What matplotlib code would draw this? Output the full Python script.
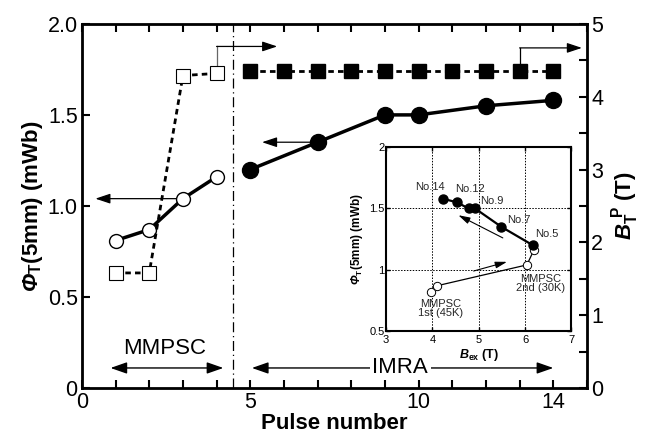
import matplotlib
matplotlib.use("Agg")
import matplotlib.pyplot as plt
import numpy as np

plt.rcParams['font.family'] = ['Liberation Sans', 'DejaVu Sans']
plt.rcParams['mathtext.fontset'] = 'custom'
plt.rcParams['mathtext.it'] = 'Liberation Sans:italic:bold'
plt.rcParams['mathtext.bf'] = 'Liberation Sans:bold'
# capital greek is drawn from the rm font, so make it bold italic for the Phi
plt.rcParams['mathtext.rm'] = 'Liberation Sans:italic:bold'

# main panel data
pulse_mmpsc = [1, 2, 3, 4]
phi_mmpsc = [0.81, 0.87, 1.04, 1.16]
pulse_imra = [5, 7, 9, 10, 12, 14]
phi_imra = [1.20, 1.35, 1.50, 1.50, 1.55, 1.58]
bt_mmpsc = [1.58, 1.58, 4.29, 4.32]
pulse_imra_b = [5, 6, 7, 8, 9, 10, 11, 12, 13, 14]
bt_imra = [4.35] * 10

# inset data
bex_open = [3.97, 4.10, 6.04, 6.19]
phi_open = [0.82, 0.87, 1.04, 1.16]
bex_fill = [6.17, 5.49, 4.92, 4.78, 4.53, 4.22]
phi_fill = [1.20, 1.35, 1.50, 1.50, 1.55, 1.58]

fig = plt.figure(figsize=(6.5, 4.34), dpi=100)
ax = fig.add_axes([0.126, 0.106, 0.777, 0.839])
ax2 = ax.twinx()

# left axis: flux
ax.plot(pulse_mmpsc, phi_mmpsc, '-', color='k', lw=2.5, marker='o', ms=10,
        mfc='white', mec='k', mew=1, zorder=3)
ax.plot(pulse_imra, phi_imra, '-', color='k', lw=2.5, marker='o', ms=11.5,
        mfc='k', mec='k', zorder=3)
ax.set_xlim(0, 15)
ax.set_ylim(0, 2.0)
ax.set_xticks(np.arange(0, 16))
ax.set_xticklabels(['0', '', '', '', '', '5', '', '', '', '', '10', '', '', '', '14', ''])
ax.set_yticks([0, 0.5, 1.0, 1.5, 2.0])
ax.set_yticklabels(['0', '0.5', '1.0', '1.5', '2.0'])
ax.tick_params(direction='in', length=6, width=1.5, labelsize=15.5, top=True, pad=3)
for s in ax.spines.values():
    s.set_linewidth(2)
ax.set_xlabel('Pulse number', fontsize=16, fontweight='bold', labelpad=0)
ax.set_ylabel(r'$\Phi_{\mathbf{T}}$(5mm) (mWb)', fontsize=16, fontweight='bold',
              labelpad=2)

# right axis: B_T^P
ax2.plot(pulse_mmpsc, bt_mmpsc, linestyle=(0, (2, 1.5)), color='k', lw=2, marker='s',
         ms=10.5, mfc='white', mec='k', mew=0.8, zorder=3)
ax2.plot(pulse_imra_b, bt_imra, linestyle=(0, (2, 1.5)), color='k', lw=2, marker='s',
         ms=10.5, mfc='k', mec='k', zorder=3)
ax2.set_ylim(0, 5)
ax2.set_yticks(np.arange(0, 5.01, 0.5))
ax2.set_yticklabels(['0', '', '1', '', '2', '', '3', '', '4', '', '5'])
ax2.tick_params(direction='in', length=6, width=1.5, labelsize=15.5, pad=3)
ax2.set_ylabel(r'$B_{\mathbf{T}}^{\ \mathbf{P}}$ (T)', fontsize=16, fontweight='bold', labelpad=4)

# separator
ax.axvline(4.5, color='k', lw=0.9, linestyle=(0, (8, 3, 1, 3)), zorder=1)

arrow_kw = dict(arrowstyle='-|>,head_length=0.9,head_width=0.3', color='k', lw=0.9,
                shrinkA=0, shrinkB=0)
ax.annotate('', xy=(0.4, 1.04), xytext=(3, 1.04), arrowprops=arrow_kw, zorder=2)
ax.annotate('', xy=(5.35, 1.35), xytext=(7, 1.35), arrowprops=arrow_kw, zorder=2)
ax2.plot([4, 4], [4.32, 4.69], color='0.4', lw=0.9, zorder=2)
ax2.annotate('', xy=(5.8, 4.69), xytext=(4, 4.69), arrowprops=arrow_kw, zorder=2)
ax2.plot([13, 13], [4.35, 4.67], color='k', lw=0.9, zorder=2)
ax2.annotate('', xy=(14.85, 4.67), xytext=(13, 4.67), arrowprops=arrow_kw, zorder=2)

dbl_kw = dict(arrowstyle='<|-|>,head_length=1.0,head_width=0.35', color='k', lw=1,
              shrinkA=0, shrinkB=0)
ax.annotate('', xy=(0.85, 0.11), xytext=(4.2, 0.11), arrowprops=dbl_kw)
ax.text(2.45, 0.215, 'MMPSC', fontsize=16, ha='center', va='center')
ax.annotate('', xy=(5.05, 0.11), xytext=(14.0, 0.11), arrowprops=dbl_kw)
ax.text(9.45, 0.115, 'IMRA', fontsize=16, ha='center', va='center',
        bbox=dict(facecolor='white', edgecolor='none', pad=2))

# inset
ins = fig.add_axes([0.594, 0.237, 0.285, 0.424])
ins.plot(bex_open, phi_open, '-', color='k', lw=0.9, marker='o', ms=6,
         mfc='white', mec='k', mew=0.7, zorder=3)
ins.plot(bex_fill, phi_fill, '-', color='k', lw=1.6, marker='o', ms=6.5,
         mfc='k', mec='k', zorder=3)
ins.set_xlim(3, 7)
ins.set_ylim(0.5, 2)
ins.set_xticks([3, 4, 5, 6, 7])
ins.set_yticks([0.5, 1, 1.5, 2])
ins.set_yticklabels(['0.5', '1', '1.5', '2'])
ins.grid(True, color='k', lw=0.7, linestyle=(0, (1.5, 1.5)))
ins.tick_params(direction='in', length=3, width=1, labelsize=8, pad=1, top=True, right=True)
ins.tick_params(axis='x', pad=2.5)
for s in ins.spines.values():
    s.set_linewidth(1.5)
ins.set_xlabel(r'$B_{\mathbf{ex}}$ (T)', fontsize=9, fontweight='bold', labelpad=2)
ins.set_ylabel(r'$\Phi_{\mathbf{T}}$(5mm) (mWb)', fontsize=8.5, fontweight='bold',
               labelpad=3)

small_arrow = dict(arrowstyle='-|>,head_length=0.7,head_width=0.2', color='k', lw=0.8,
                   shrinkA=0, shrinkB=0)
ins.annotate('', xy=(4.56, 1.445), xytext=(5.52, 1.26), arrowprops=small_arrow)
ins.annotate('', xy=(5.61, 1.065), xytext=(4.89, 0.99), arrowprops=small_arrow)

lbl_kw = dict(fontsize=8, ha='center', va='center', color='0.15')
ins.text(3.95, 1.675, 'No.14', **lbl_kw)
ins.text(4.82, 1.66, 'No.12', **lbl_kw)
ins.text(5.28, 1.56, 'No.9', **lbl_kw)
ins.text(5.86, 1.41, 'No.7', **lbl_kw)
ins.text(6.47, 1.29, 'No.5', **lbl_kw)
ins.text(6.33, 0.89, 'MMPSC\n2nd (30K)', linespacing=0.9, **lbl_kw)
ins.text(4.17, 0.685, 'MMPSC\n1st (45K)', linespacing=0.9, **lbl_kw)

fig.savefig('out.png', dpi=100)
